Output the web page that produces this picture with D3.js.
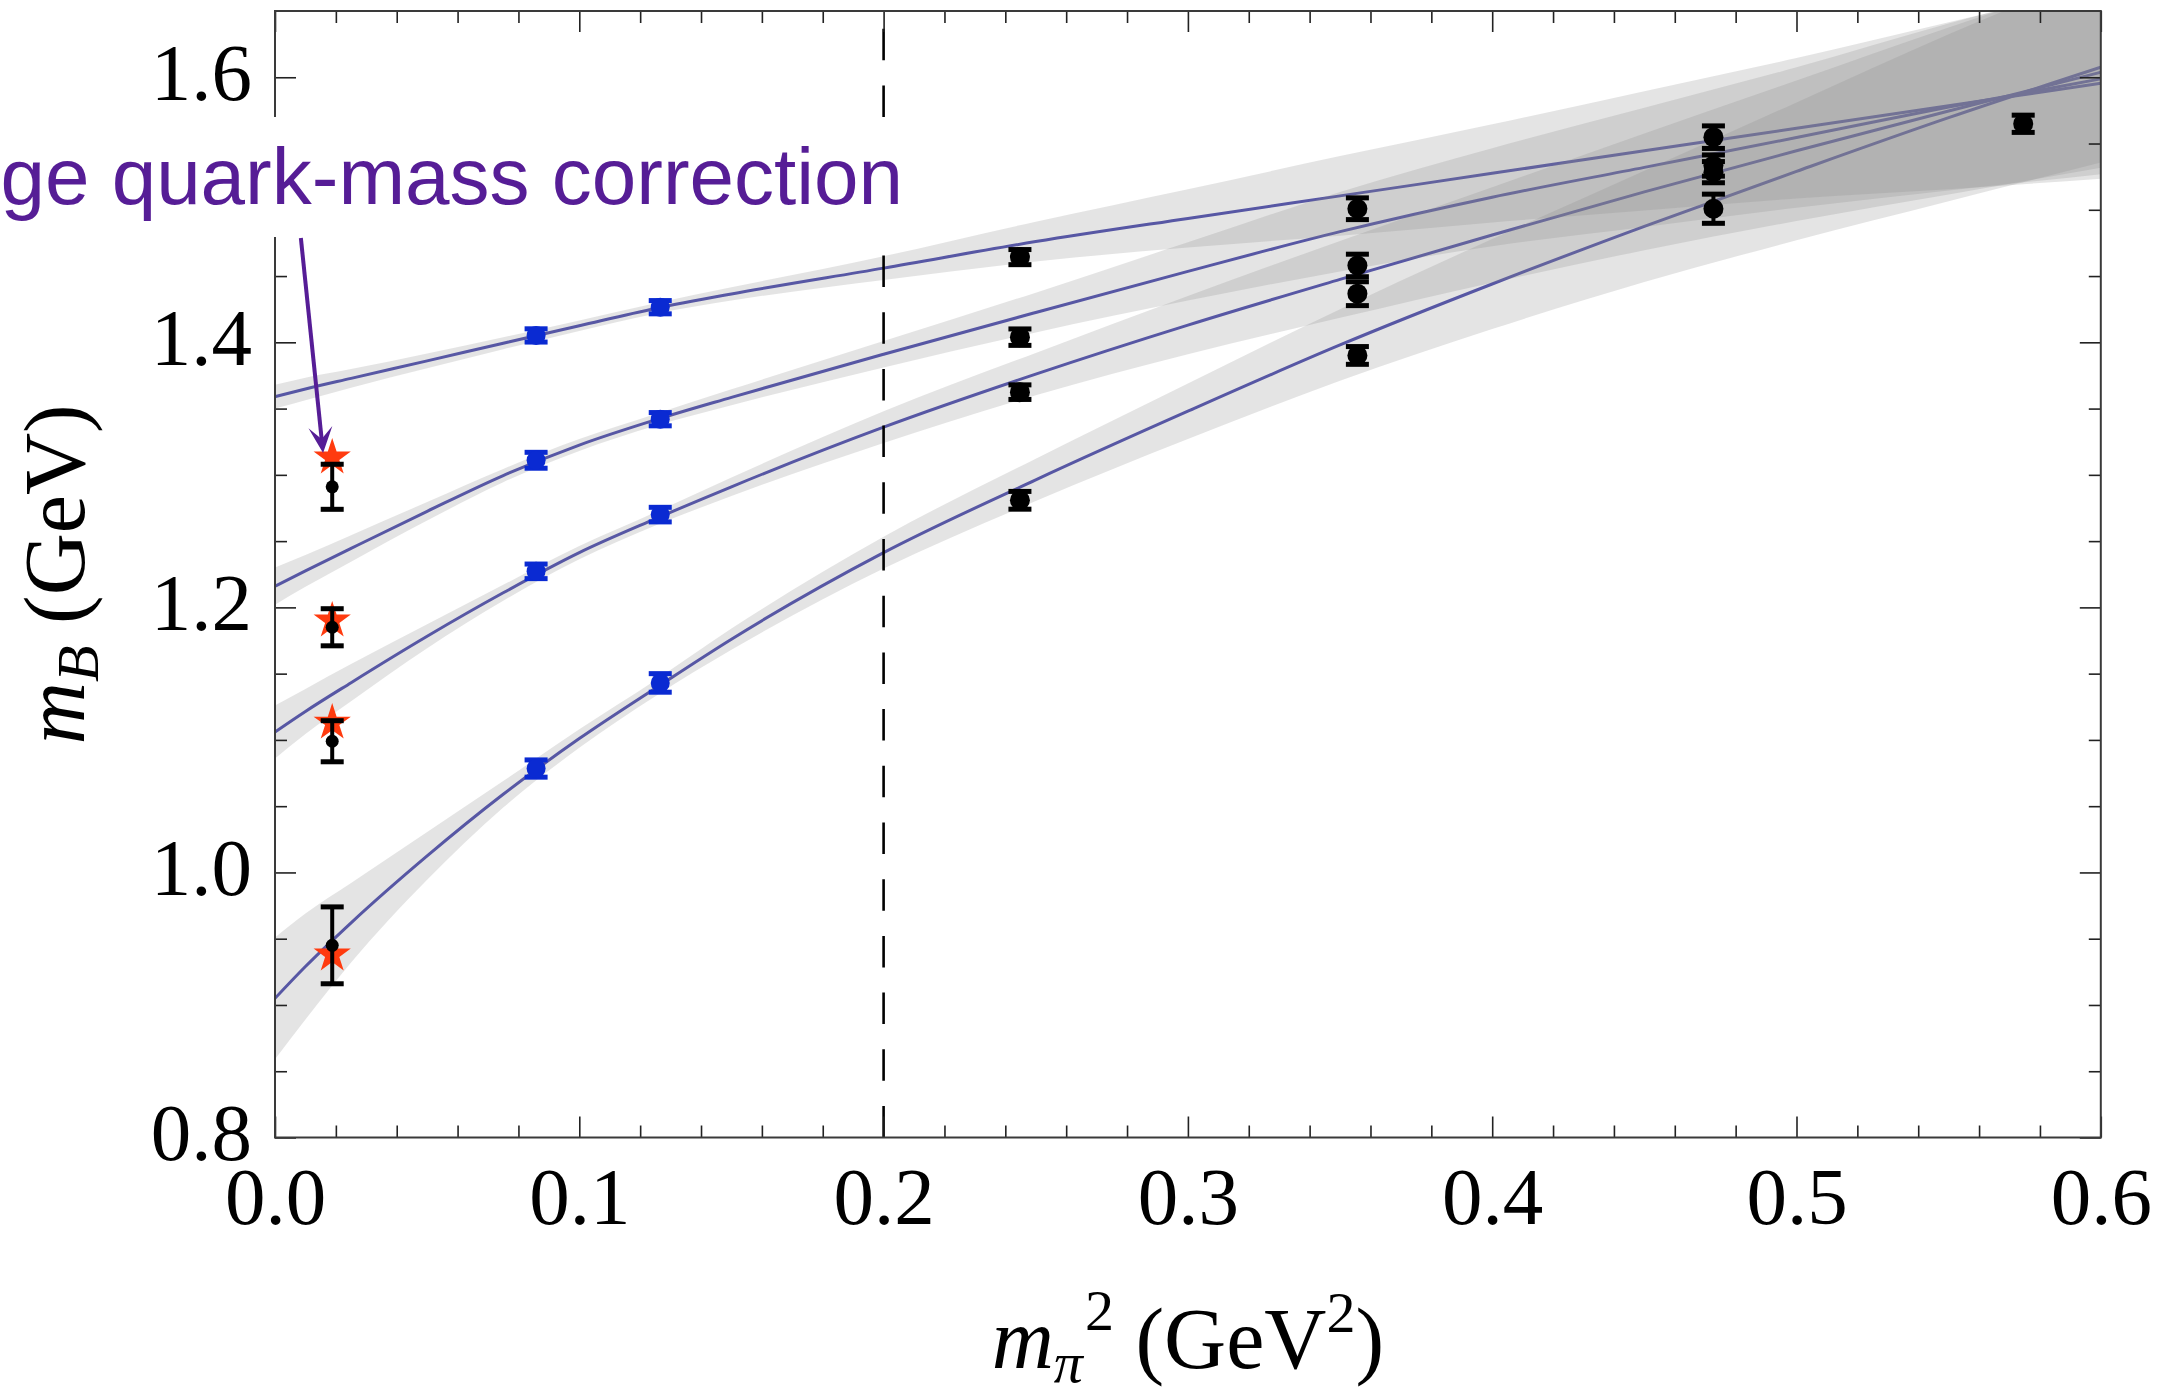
<!DOCTYPE html>
<html><head><meta charset="utf-8">
<script src="https://cdn.jsdelivr.net/npm/d3@7"></script>
<style>html,body{margin:0;padding:0;background:#fff;} svg{display:block;}</style>
</head><body><svg id="chart" width="2174" height="1396"></svg>
<script>
// ---------------- data ----------------
const xLabels = ["0.0","0.1","0.2","0.3","0.4","0.5","0.6"];
const xMajor = [0, 0.1, 0.2, 0.3, 0.4, 0.5, 0.6];
const xMinor = [0.02,0.04,0.06,0.08,0.12,0.14,0.16,0.18,0.22,0.24,0.26,0.28,0.32,0.34,0.36,0.38,0.42,0.44,0.46,0.48,0.52,0.54,0.56,0.58];
const yLabels = ["0.8","1.0","1.2","1.4","1.6"];
const yMajor = [0.8, 1.0, 1.2, 1.4, 1.6];
const yMinor = [0.85,0.9,0.95,1.05,1.1,1.15,1.25,1.3,1.35,1.45,1.5,1.55];

// fit curves sampled at these m_pi^2 values
const curveX = [0, 0.01, 0.025, 0.05, 0.075, 0.1, 0.125, 0.15, 0.2, 0.25, 0.3, 0.35, 0.4, 0.45, 0.5, 0.55, 0.6];
const curveA = [1.359, 1.3648, 1.3728, 1.386, 1.3993, 1.4125, 1.4255, 1.4365, 1.456, 1.476, 1.4935, 1.5105, 1.5275, 1.5445, 1.5615, 1.5785, 1.5955];
const bandAHi = [1.368, 1.3733, 1.3798, 1.3915, 1.4038, 1.4165, 1.4295, 1.4415, 1.465, 1.491, 1.5155, 1.5405, 1.5645, 1.5895, 1.6145, 1.6415, 1.6675];
const bandALo = [1.350, 1.3563, 1.3658, 1.3805, 1.3948, 1.4085, 1.4215, 1.4315, 1.447, 1.461, 1.4715, 1.4805, 1.4905, 1.4995, 1.5085, 1.5155, 1.5235];
const curveB = [1.216, 1.2275, 1.2445, 1.2725, 1.2995, 1.3225, 1.3415, 1.3585, 1.391, 1.4225, 1.4535, 1.4835, 1.5095, 1.532, 1.5545, 1.5775, 1.5988];
const bandBHi = [1.230, 1.2395, 1.2545, 1.2795, 1.3045, 1.327, 1.346, 1.3645, 1.401, 1.4375, 1.4755, 1.5135, 1.5465, 1.577, 1.6075, 1.6405, 1.6708];
const bandBLo = [1.202, 1.2155, 1.2345, 1.2655, 1.2945, 1.318, 1.337, 1.3525, 1.381, 1.4075, 1.4315, 1.4535, 1.4725, 1.487, 1.5015, 1.5145, 1.5268];
const curveC = [1.106, 1.1215, 1.1432, 1.1782, 1.211, 1.2413, 1.2668, 1.291, 1.336, 1.376, 1.413, 1.4475, 1.481, 1.5135, 1.5445, 1.5745, 1.6038];
const bandCHi = [1.126, 1.1385, 1.1572, 1.1872, 1.217, 1.2463, 1.2718, 1.298, 1.348, 1.392, 1.435, 1.4765, 1.517, 1.5575, 1.5975, 1.6375, 1.6758];
const bandCLo = [1.086, 1.1045, 1.1292, 1.1692, 1.205, 1.2363, 1.2618, 1.284, 1.324, 1.360, 1.391, 1.4185, 1.445, 1.4695, 1.4915, 1.5115, 1.5318];
const curveD = [0.905, 0.929, 0.962, 1.0125, 1.059, 1.101, 1.139, 1.176, 1.2413, 1.2962, 1.348, 1.398, 1.444, 1.4875, 1.529, 1.5695, 1.6076];
const bandDHi = [0.951, 0.969, 0.992, 1.0305, 1.069, 1.108, 1.145, 1.184, 1.2533, 1.3122, 1.369, 1.425, 1.478, 1.5295, 1.581, 1.6325, 1.6796];
const bandDLo = [0.859, 0.889, 0.932, 0.9945, 1.049, 1.094, 1.133, 1.168, 1.2293, 1.2802, 1.327, 1.371, 1.41, 1.4455, 1.477, 1.5065, 1.5356];

// lattice points used in the fit (blue)
const blueX = [0.0858, 0.1266];
const blueA = [1.4052, 1.4265], blueAErr = [0.005, 0.005];
const blueB = [1.3110, 1.3420], blueBErr = [0.006, 0.005];
const blueC = [1.2272, 1.2700], blueCErr = [0.0055, 0.0055];
const blueD = [1.0784, 1.1430], blueDErr = [0.0065, 0.007];

// heavier lattice points (black)
const blackX = [0.2448, 0.3557, 0.4727, 0.5745];
const blackCol1 = [1.4643, 1.4039, 1.3624, 1.2808], blackCol1Err = [0.0057, 0.0062, 0.0055, 0.0067];
const blackCol2 = [1.5008, 1.4580, 1.4367, 1.3901], blackCol2Err = [0.0082, 0.0085, 0.0090, 0.0067];
const blackCol3 = [1.5548, 1.5334, 1.5284, 1.5008], blackCol3Err = [0.0085, 0.008, 0.008, 0.011];
const blackCol4 = [1.5649], blackCol4Err = [0.0065];

// physical point: extrapolated (black) and experiment (stars)
const physX = 0.0188;
const physMass = [1.291, 1.185, 1.099, 0.945];
const physErr = [0.017, 0.014, 0.0155, 0.029];
const expMass = [1.313, 1.190, 1.113, 0.938];

const annotation = "ge quark-mass correction";
const arrowTail = [0.0085, 1.4787];
const arrowTip = [0.0158, 1.3165];
const dashedX = 0.2;

// ---------------- drawing ----------------
const svg = d3.select("#chart");
const M = {left: 275, right: 2100.8, top: 11, bottom: 1137.5};
const x = d3.scaleLinear().domain([0, 0.6]).range([M.left, M.right]);
const y = d3.scaleLinear().domain([0.8, 1.65]).range([M.bottom, M.top]);

svg.append("rect").attr("width", 2174).attr("height", 1396).attr("fill", "#fff");

svg.append("defs").append("clipPath").attr("id", "plotclip")
  .append("rect").attr("x", M.left).attr("y", M.top)
  .attr("width", M.right - M.left).attr("height", M.bottom - M.top);

const plot = svg.append("g").attr("clip-path", "url(#plotclip)");

const curves = [curveA, curveB, curveC, curveD];
const bandsHi = [bandAHi, bandBHi, bandCHi, bandDHi];
const bandsLo = [bandALo, bandBLo, bandCLo, bandDLo];

const line = d3.line().x(d => x(d[0])).y(d => y(d[1])).curve(d3.curveMonotoneX);
const area = d3.area().x(d => x(d[0])).y0(d => y(d[1])).y1(d => y(d[2])).curve(d3.curveMonotoneX);

// curves first (bands drawn over them, as in the original)
curves.forEach(c => {
  plot.append("path").attr("d", line(curveX.map((v, i) => [v, c[i]])))
    .attr("fill", "none").attr("stroke", "#4848ac").attr("stroke-width", 3);
});
bandsHi.forEach((hi, k) => {
  const lo = bandsLo[k];
  plot.append("path").attr("d", area(curveX.map((v, i) => [v, lo[i], hi[i]])))
    .attr("fill", "#8a8a8a").attr("fill-opacity", 0.23).attr("stroke", "none");
});

// dashed line at m_pi^2 = 0.2 (drawn bottom to top)
plot.append("line").attr("x1", x(dashedX)).attr("x2", x(dashedX))
  .attr("y1", y(0.8)).attr("y2", y(1.65))
  .attr("stroke", "#000").attr("stroke-width", 2.6).attr("stroke-dasharray", "31.5,25.2");

// axes (ticks inward on all four sides)
function styleAxis(g) { g.select(".domain").remove(); g.attr("color", "#222"); g.selectAll(".tick line").attr("stroke-width", 1.6); }
const fontSerif = "'Liberation Serif','Times New Roman',Times,serif";

const gxb = svg.append("g").attr("transform", `translate(0,${M.bottom})`)
  .call(d3.axisBottom(x).tickValues(xMajor).tickFormat((d, i) => xLabels[i]).tickSize(-21).tickPadding(0));
styleAxis(gxb);
gxb.selectAll("text").attr("y", 86).attr("dy", null).attr("fill", "#000")
  .attr("font-family", fontSerif).attr("font-size", 81);
const gxbm = svg.append("g").attr("transform", `translate(0,${M.bottom})`)
  .call(d3.axisBottom(x).tickValues(xMinor).tickFormat("").tickSize(-12));
styleAxis(gxbm);
const gxt = svg.append("g").attr("transform", `translate(0,${M.top})`)
  .call(d3.axisTop(x).tickValues(xMajor).tickFormat("").tickSize(-21));
styleAxis(gxt);
const gxtm = svg.append("g").attr("transform", `translate(0,${M.top})`)
  .call(d3.axisTop(x).tickValues(xMinor).tickFormat("").tickSize(-12));
styleAxis(gxtm);

const gyl = svg.append("g").attr("transform", `translate(${M.left},0)`)
  .call(d3.axisLeft(y).tickValues(yMajor).tickFormat((d, i) => yLabels[i]).tickSize(-21).tickPadding(0));
styleAxis(gyl);
gyl.selectAll("text").attr("x", -23).attr("dy", null).attr("y", 22).attr("fill", "#000")
  .attr("font-family", fontSerif).attr("font-size", 81);
const gylm = svg.append("g").attr("transform", `translate(${M.left},0)`)
  .call(d3.axisLeft(y).tickValues(yMinor).tickFormat("").tickSize(-12));
styleAxis(gylm);
const gyr = svg.append("g").attr("transform", `translate(${M.right},0)`)
  .call(d3.axisRight(y).tickValues(yMajor).tickFormat("").tickSize(-21));
styleAxis(gyr);
const gyrm = svg.append("g").attr("transform", `translate(${M.right},0)`)
  .call(d3.axisRight(y).tickValues(yMinor).tickFormat("").tickSize(-12));
styleAxis(gyrm);

// frame
svg.append("rect").attr("x", M.left).attr("y", M.top)
  .attr("width", M.right - M.left).attr("height", M.bottom - M.top)
  .attr("fill", "none").attr("stroke", "#3a3a3a").attr("stroke-width", 2);

// error-bar marker helper
function errMarker(g, xv, yv, err, color, r, capW, capH, barW) {
  const cx = x(xv), cy = y(yv), yt = y(yv + err), yb = y(yv - err);
  g.append("line").attr("x1", cx).attr("x2", cx).attr("y1", yt).attr("y2", yb)
    .attr("stroke", color).attr("stroke-width", barW);
  g.append("rect").attr("x", cx - capW / 2).attr("y", yt - capH / 2).attr("width", capW).attr("height", capH).attr("fill", color);
  g.append("rect").attr("x", cx - capW / 2).attr("y", yb - capH / 2).attr("width", capW).attr("height", capH).attr("fill", color);
  g.append("circle").attr("cx", cx).attr("cy", cy).attr("r", r).attr("fill", color);
}

const marks = svg.append("g");
// experimental stars
const star = d3.symbol().type(d3.symbolStar).size(430);
expMass.forEach(m => {
  marks.append("path").attr("d", star()).attr("transform", `translate(${x(physX)},${y(m)})`)
    .attr("fill", "#ff3b0f");
});
// physical-point extrapolations
physMass.forEach((m, i) => errMarker(marks, physX, m, physErr[i], "#000", 6.5, 23, 5, 4));

// blue lattice points
const blueSets = [[blueA, blueAErr], [blueB, blueBErr], [blueC, blueCErr], [blueD, blueDErr]];
blueSets.forEach(([vals, errs]) => vals.forEach((v, i) =>
  errMarker(marks, blueX[i], v, errs[i], "#0a2ad2", 9.5, 23, 5, 4)));

// black lattice points
const blackSets = [[blackCol1, blackCol1Err], [blackCol2, blackCol2Err], [blackCol3, blackCol3Err], [blackCol4, blackCol4Err]];
blackSets.forEach(([vals, errs], j) => vals.forEach((v, i) =>
  errMarker(marks, blackX[j], v, errs[i], "#000", 10, 23, 5, 4)));

// annotation box + text
svg.append("rect").attr("x", 0).attr("y", 117).attr("width", 906).attr("height", 120).attr("fill", "#fff");
svg.append("text").attr("x", 903).attr("y", 204).attr("text-anchor", "end")
  .attr("font-family", "'Liberation Sans',Arial,Helvetica,sans-serif").attr("font-size", 80)
  .attr("fill", "#561d96").text(annotation);

// arrow
{
  const tx = x(arrowTail[0]), ty = y(arrowTail[1]), px = x(arrowTip[0]), py = y(arrowTip[1]);
  const dx = px - tx, dy = py - ty, L = Math.hypot(dx, dy), ux = dx / L, uy = dy / L, nx = -uy, ny = ux;
  const headL = 26, headW = 12, notch = 14;
  svg.append("line").attr("x1", tx).attr("y1", ty).attr("x2", px - ux * notch).attr("y2", py - uy * notch)
    .attr("stroke", "#561d96").attr("stroke-width", 4);
  const pts = [[px, py], [px - ux * headL + nx * headW, py - uy * headL + ny * headW],
    [px - ux * notch, py - uy * notch], [px - ux * headL - nx * headW, py - uy * headL - ny * headW]];
  svg.append("path").attr("d", "M" + pts.map(p => p.join(",")).join("L") + "Z").attr("fill", "#561d96");
}

// axis titles
const xt = svg.append("text").attr("x", x(0.3)).attr("y", 1368).attr("text-anchor", "middle")
  .attr("font-family", fontSerif).attr("font-size", 86).attr("fill", "#000");
xt.append("tspan").attr("font-style", "italic").text("m");
xt.append("tspan").attr("font-style", "italic").attr("font-size", 58).attr("dy", 14).text("π");
xt.append("tspan").attr("font-size", 58).attr("dy", -52).attr("dx", 2).text("2");
xt.append("tspan").attr("dy", 38).text(" (GeV");
xt.append("tspan").attr("font-size", 58).attr("dy", -36).text("2");
xt.append("tspan").attr("dy", 36).text(")");

const yt = svg.append("text").attr("transform", `translate(84,${(M.top + M.bottom) / 2}) rotate(-90)`)
  .attr("text-anchor", "middle").attr("font-family", fontSerif).attr("font-size", 86).attr("fill", "#000");
yt.append("tspan").attr("font-style", "italic").text("m");
yt.append("tspan").attr("font-style", "italic").attr("font-size", 60).attr("dy", 14).text("B");
yt.append("tspan").attr("dy", -14).text(" (GeV)");
</script></body></html>
